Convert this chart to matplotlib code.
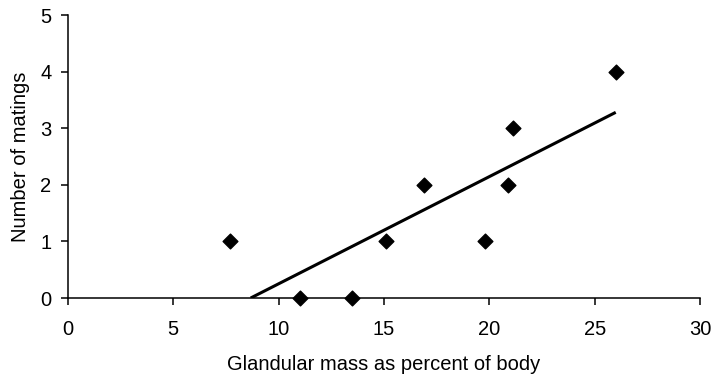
import numpy as np
import matplotlib
matplotlib.use("Agg")
import matplotlib.pyplot as plt

plt.rcParams['font.family'] = ['Liberation Sans', 'DejaVu Sans']

glandular_mass = [7.7, 11.0, 13.5, 15.1, 16.9, 19.8, 20.9, 21.1, 26.0]
matings = [1, 0, 0, 1, 2, 1, 2, 3, 4]
x_ticks = [0, 5, 10, 15, 20, 25, 30]
y_ticks = [0, 1, 2, 3, 4, 5]

fig = plt.figure(figsize=(7.14, 3.79), dpi=100)
ax = fig.add_axes([0.0952, 0.2137, 0.9804 - 0.0952, 0.9604 - 0.2137])

ax.scatter(glandular_mass, matings, marker='D', s=7.5**2, color='black', zorder=3, clip_on=False)

slope, intercept = np.polyfit(glandular_mass, matings, 1)
x0 = -intercept / slope
x1 = max(glandular_mass)
xs = np.array([x0, x1])
ax.plot(xs, slope * xs + intercept, color='black', lw=2.2, solid_capstyle='butt')

ax.set_xlim(0, 30)
ax.set_ylim(0, 5)
ax.set_xticks(x_ticks)
ax.set_yticks(y_ticks)
for s in ['top', 'right']:
    ax.spines[s].set_visible(False)
for s in ['left', 'bottom']:
    ax.spines[s].set_linewidth(1.1)
ax.tick_params(axis='both', direction='out', length=5, width=1.1, labelsize=14.5, colors='black')
ax.tick_params(axis='x', pad=11)
ax.tick_params(axis='y', pad=7)
ax.set_xlabel('Glandular mass as percent of body', fontsize=14.5, labelpad=11)
ax.set_ylabel('Number of matings', fontsize=14.5, labelpad=7)

fig.savefig('out.png', dpi=100)
